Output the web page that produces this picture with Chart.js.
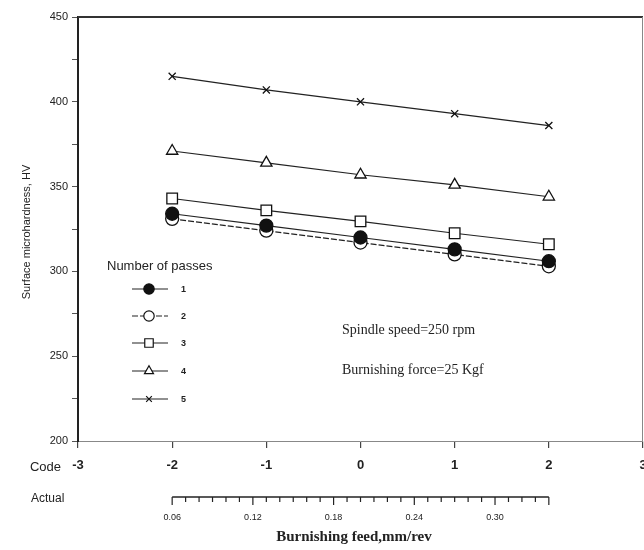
<!DOCTYPE html>
<html>
<head>
<meta charset="utf-8">
<script src="https://cdn.jsdelivr.net/npm/chart.js@4/dist/chart.umd.min.js"></script>
<style>
html,body{margin:0;padding:0;background:#fff;}
#wrap{width:644px;height:550px;position:relative;}
</style>
</head>
<body>
<div id="wrap"><canvas id="c" width="644" height="550"></canvas></div>
<script>
// ---- data ----
const codes = [-2, -1, 0, 1, 2];
const pass1 = [334, 327, 320, 313, 306];
const pass2 = [331, 324, 317, 310, 303];
const pass3 = [343, 336, 329.5, 322.5, 316];
const pass4 = [371, 364, 357, 351, 344];
const pass5 = [415, 407, 400, 393, 386];
const seriesNames = ['1', '2', '3', '4', '5'];
const actualTicks = [0.06, 0.12, 0.18, 0.24, 0.30];
const actualMin = 0.06, actualMax = 0.34;
// actual feed = 0.20 + 0.07 * code
const actualToCode = v => (v - 0.20) / 0.07;

const mk = (arr) => codes.map((c, i) => ({x: c, y: arr[i]}));

const styles = [
  {pointStyle: 'circle', radius: 6.5, fill: '#111', dash: []},
  {pointStyle: 'circle', radius: 6.5, fill: '#fff', dash: [6, 2]},
  {pointStyle: 'rect', radius: 7.5, fill: '#fff', dash: []},
  {pointStyle: 'triangle', radius: 6.5, fill: '#fff', dash: []},
  {pointStyle: 'crossRot', radius: 5, fill: '#fff', dash: []}
];
const allSeries = [pass1, pass2, pass3, pass4, pass5];

const datasets = allSeries.map((arr, i) => ({
  label: seriesNames[i],
  data: mk(arr),
  showLine: true,
  borderColor: '#222',
  borderWidth: 1.2,
  borderDash: styles[i].dash,
  pointStyle: styles[i].pointStyle,
  pointRadius: styles[i].radius,
  pointBackgroundColor: styles[i].fill,
  pointBorderColor: '#111',
  pointBorderWidth: 1.3,
  fill: false,
  order: i
}));

const sans = "'Liberation Sans', Arial, sans-serif";
const serif = "'Liberation Serif', 'Times New Roman', serif";

const decor = {
  id: 'decor',
  afterDraw(chart) {
    const ctx = chart.ctx;
    const a = chart.chartArea;
    const xs = chart.scales.x;
    ctx.save();
    // top border
    ctx.strokeStyle = '#333';
    ctx.lineWidth = 2;
    ctx.beginPath(); ctx.moveTo(a.left, a.top); ctx.lineTo(a.right, a.top); ctx.stroke();
    // right border
    ctx.strokeStyle = '#888';
    ctx.lineWidth = 1;
    ctx.beginPath(); ctx.moveTo(a.right - 0.5, a.top); ctx.lineTo(a.right - 0.5, a.bottom); ctx.stroke();

    // "Code" label
    ctx.fillStyle = '#222';
    ctx.font = '13px ' + sans;
    ctx.textAlign = 'right';
    ctx.textBaseline = 'middle';
    ctx.fillText('Code', 61, 467);
    // "Actual" label
    ctx.font = '12px ' + sans;
    ctx.textAlign = 'left';
    ctx.fillText('Actual', 31, 499);

    // Actual axis
    const ay = 497;
    const px = v => xs.getPixelForValue(actualToCode(v));
    ctx.strokeStyle = '#222';
    ctx.lineWidth = 1.5;
    ctx.beginPath(); ctx.moveTo(px(actualMin), ay); ctx.lineTo(px(actualMax), ay); ctx.stroke();
    ctx.lineWidth = 1.2;
    for (let k = 0; k <= Math.round((actualMax - actualMin) / 0.01); k++) {
      const v = actualMin + k * 0.01;
      const isMajor = actualTicks.some(t => Math.abs(t - v) < 1e-6) || k === 0 || Math.abs(v - actualMax) < 1e-6;
      const len = isMajor ? 8 : 5;
      const p = px(v);
      ctx.beginPath(); ctx.moveTo(p, ay); ctx.lineTo(p, ay + len); ctx.stroke();
    }
    ctx.font = '9px ' + sans;
    ctx.textAlign = 'center';
    ctx.textBaseline = 'middle';
    actualTicks.forEach(t => ctx.fillText(t.toFixed(2), px(t), 518));

    // x title
    ctx.font = 'bold 15px ' + serif;
    ctx.fillText('Burnishing feed,mm/rev', 354, 537);

    // y title
    ctx.save();
    ctx.translate(27, 232);
    ctx.rotate(-Math.PI / 2);
    ctx.font = '11px ' + sans;
    ctx.fillText('Surface microhardness, HV', 0, 0);
    ctx.restore();

    // annotations
    ctx.font = '14px ' + serif;
    ctx.textAlign = 'left';
    ctx.fillText('Spindle speed=250 rpm', 342, 330);
    ctx.fillText('Burnishing force=25 Kgf', 342, 370);

    // legend
    ctx.font = '13px ' + sans;
    ctx.fillText('Number of passes', 107, 266);
    const rows = [289, 316, 343, 371, 399];
    chart.data.datasets.forEach((ds, i) => {
      const y = rows[i];
      ctx.strokeStyle = '#222';
      ctx.lineWidth = 1.2;
      ctx.setLineDash(ds.borderDash || []);
      ctx.beginPath(); ctx.moveTo(132, y); ctx.lineTo(168, y); ctx.stroke();
      ctx.setLineDash([]);
      ctx.fillStyle = ds.pointBackgroundColor;
      ctx.strokeStyle = '#111';
      Chart.helpers.drawPoint(ctx, {pointStyle: ds.pointStyle, radius: ds.pointRadius * 0.8, borderWidth: 1.2}, 149, y);
      ctx.fillStyle = '#222';
      ctx.font = 'bold 9px ' + sans;
      ctx.fillText(ds.label, 181, y + 1);
    });
    ctx.restore();
  }
};

new Chart(document.getElementById('c'), {
  type: 'scatter',
  data: {datasets},
  options: {
    responsive: false,
    animation: false,
    layout: {autoPadding: false, padding: {left: 0, top: 17, right: 1, bottom: 0}},
    plugins: {legend: {display: false}, tooltip: {enabled: false}},
    scales: {
      x: {
        type: 'linear', min: -3, max: 3,
        afterFit: s => { s.height = 109; s.paddingRight = 0; s.paddingLeft = 0; },
        ticks: {stepSize: 1, color: '#222', font: {size: 13, family: sans, weight: 'bold'}, padding: 10,
          callback: v => String(v)},
        grid: {drawOnChartArea: false, drawTicks: true, tickLength: 7, color: '#444', lineWidth: 1.2},
        border: {display: true, color: '#888', width: 1, dash: [4, 2]}
      },
      y: {
        min: 200, max: 450,
        afterFit: s => { s.width = 78; s.paddingTop = 0; s.paddingBottom = 0; },
        ticks: {stepSize: 25, color: '#222', font: {size: 11, family: sans}, padding: 4,
          callback: v => (v % 50 === 0 ? String(v) : '')},
        grid: {drawOnChartArea: false, drawTicks: true, tickLength: 6, color: '#555', lineWidth: 1},
        border: {display: true, color: '#222', width: 2}
      }
    }
  },
  plugins: [decor]
});
</script>
</body>
</html>
